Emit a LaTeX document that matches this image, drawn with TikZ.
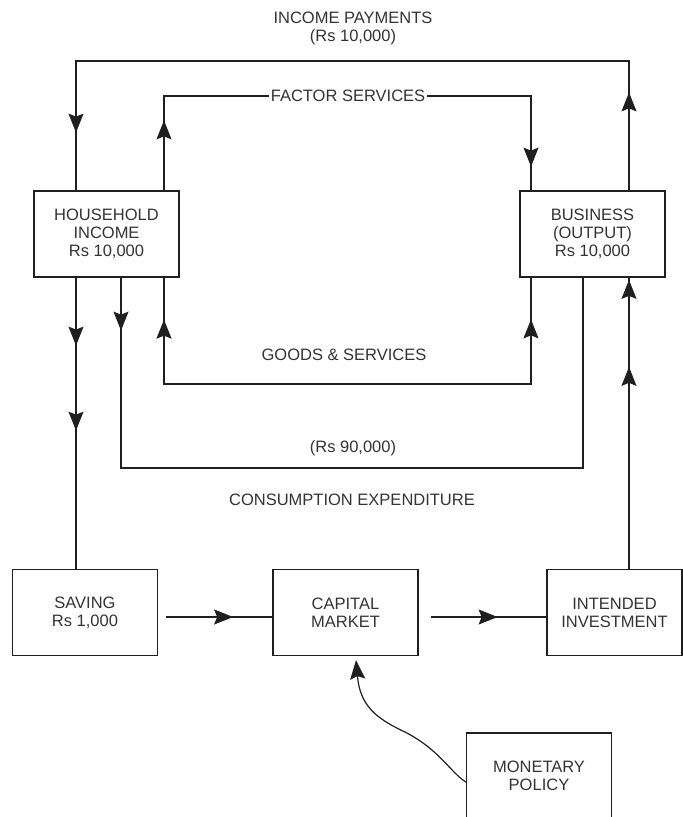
\documentclass[tikz,border=0pt]{standalone}
\usepackage{fontspec}
\setmainfont{Liberation Sans}
\usetikzlibrary{arrows.meta,decorations.markings}

\definecolor{ink}{rgb}{0.12,0.12,0.12}
\definecolor{txt}{rgb}{0.2,0.2,0.2}

\tikzset{
  box/.style={draw=ink, line width=1.3pt, minimum width=145pt, minimum height=86pt,
    inner sep=0pt, align=center, text=txt, font=\fontsize{16.5}{18}\selectfont},
  lbl/.style={align=center, text=txt, inner sep=1pt, font=\fontsize{16.5}{18}\selectfont},
  flow/.style={draw=ink, line width=1.4pt},
  headtip/.tip={Stealth[length=19pt,width=15pt,inset=3pt]},
  tipat/.style={postaction={decorate, decoration={markings,
    mark=at position #1 with {\arrow{headtip}}}}},
  tipback/.style={postaction={decorate, decoration={markings,
    mark=at position #1 with {\arrowreversed{headtip}}}}},
}

\begin{document}
\begin{tikzpicture}[x=1pt, y=-1pt]
\useasboundingbox (0,0) rectangle (683,817);

% sectors
\node[box] (hh)  at (106.5,234) {HOUSEHOLD\\INCOME\\Rs 10,000};
\node[box] (biz) at (592.5,234) {BUSINESS\\(OUTPUT)\\Rs 10,000};
\node[box] (sav) at (85,612.5) {SAVING\\Rs 1,000};
\node[box] (cap) at (345.5,612.5) {CAPITAL\\MARKET};
\node[box, minimum width=135pt] (inv) at (614.5,612.5) {INTENDED\\INVESTMENT};
\node[box] (mon) at (539,776) {MONETARY\\POLICY};

% guide lines of the circular flows
\coordinate (xL) at (76,0);
\coordinate (xC) at (121,0);
\coordinate (xG) at (164,0);
\coordinate (xF) at (531,0);
\coordinate (xE) at (583,0);
\coordinate (xR) at (629,0);
\coordinate (yTop) at (0,61);
\coordinate (yFac) at (0,96);
\coordinate (yGoods) at (0,384);
\coordinate (yCons) at (0,468);

% income payments
\draw[flow, tipat=98pt, tipat=754pt]
  (biz.north -| xR) -- (xR |- yTop) -- (xL |- yTop) -- (hh.north -| xL);
% factor services
\draw[flow, tipat=70pt, tipat=532pt]
  (hh.north -| xG) -- (xG |- yFac) -- (xF |- yFac) -- (biz.north -| xF);
% goods and services
\draw[flow, tipback=42pt, tipat=538pt]
  (hh.south -| xG) -- (xG |- yGoods) -- (xF |- yGoods) -- (biz.south -| xF);
% consumption expenditure
\draw[flow, tipat=53pt]
  (hh.south -| xC) -- (xC |- yCons) -- (xE |- yCons) -- (biz.south -| xE);
% saving leakage
\draw[flow, tipat=68pt, tipat=153pt] (hh.south -| xL) -- (sav.north -| xL);
% investment injection
\draw[flow, tipat=202pt, tipat=289pt] (inv.north -| xR) -- (biz.south -| xR);
% capital market links
\draw[flow, tipat=67pt] ([shift={(8pt,-4.5pt)}]sav.east) -- ([yshift=-4.5pt]cap.west);
\draw[flow, tipat=67pt] ([shift={(12pt,-4.5pt)}]cap.east) -- ([yshift=-4.5pt]inv.west);
% monetary policy influence
\coordinate (mbend) at (405,732);
\draw[draw=ink, line width=1.2pt, -{headtip}]
  ([yshift=-6pt]mon.west) .. controls (450,772) and (440,750) .. (mbend)
  .. controls (375,718) and (360,705) .. ([shift={(10.5pt,-4pt)}]cap.south);

% labels
\node[lbl] (incpay) at (353,28) {INCOME PAYMENTS\\(Rs 10,000)};
\node[lbl, fill=white, inner xsep=2pt] (facserv) at (348,96) {FACTOR SERVICES};
\node[lbl] (goods) at (344,355) {GOODS \& SERVICES};
\node[lbl] (rs90) at (353,448) {(Rs 90,000)};
\node[lbl] (consexp) at (352,500) {CONSUMPTION EXPENDITURE};
\end{tikzpicture}
\end{document}
